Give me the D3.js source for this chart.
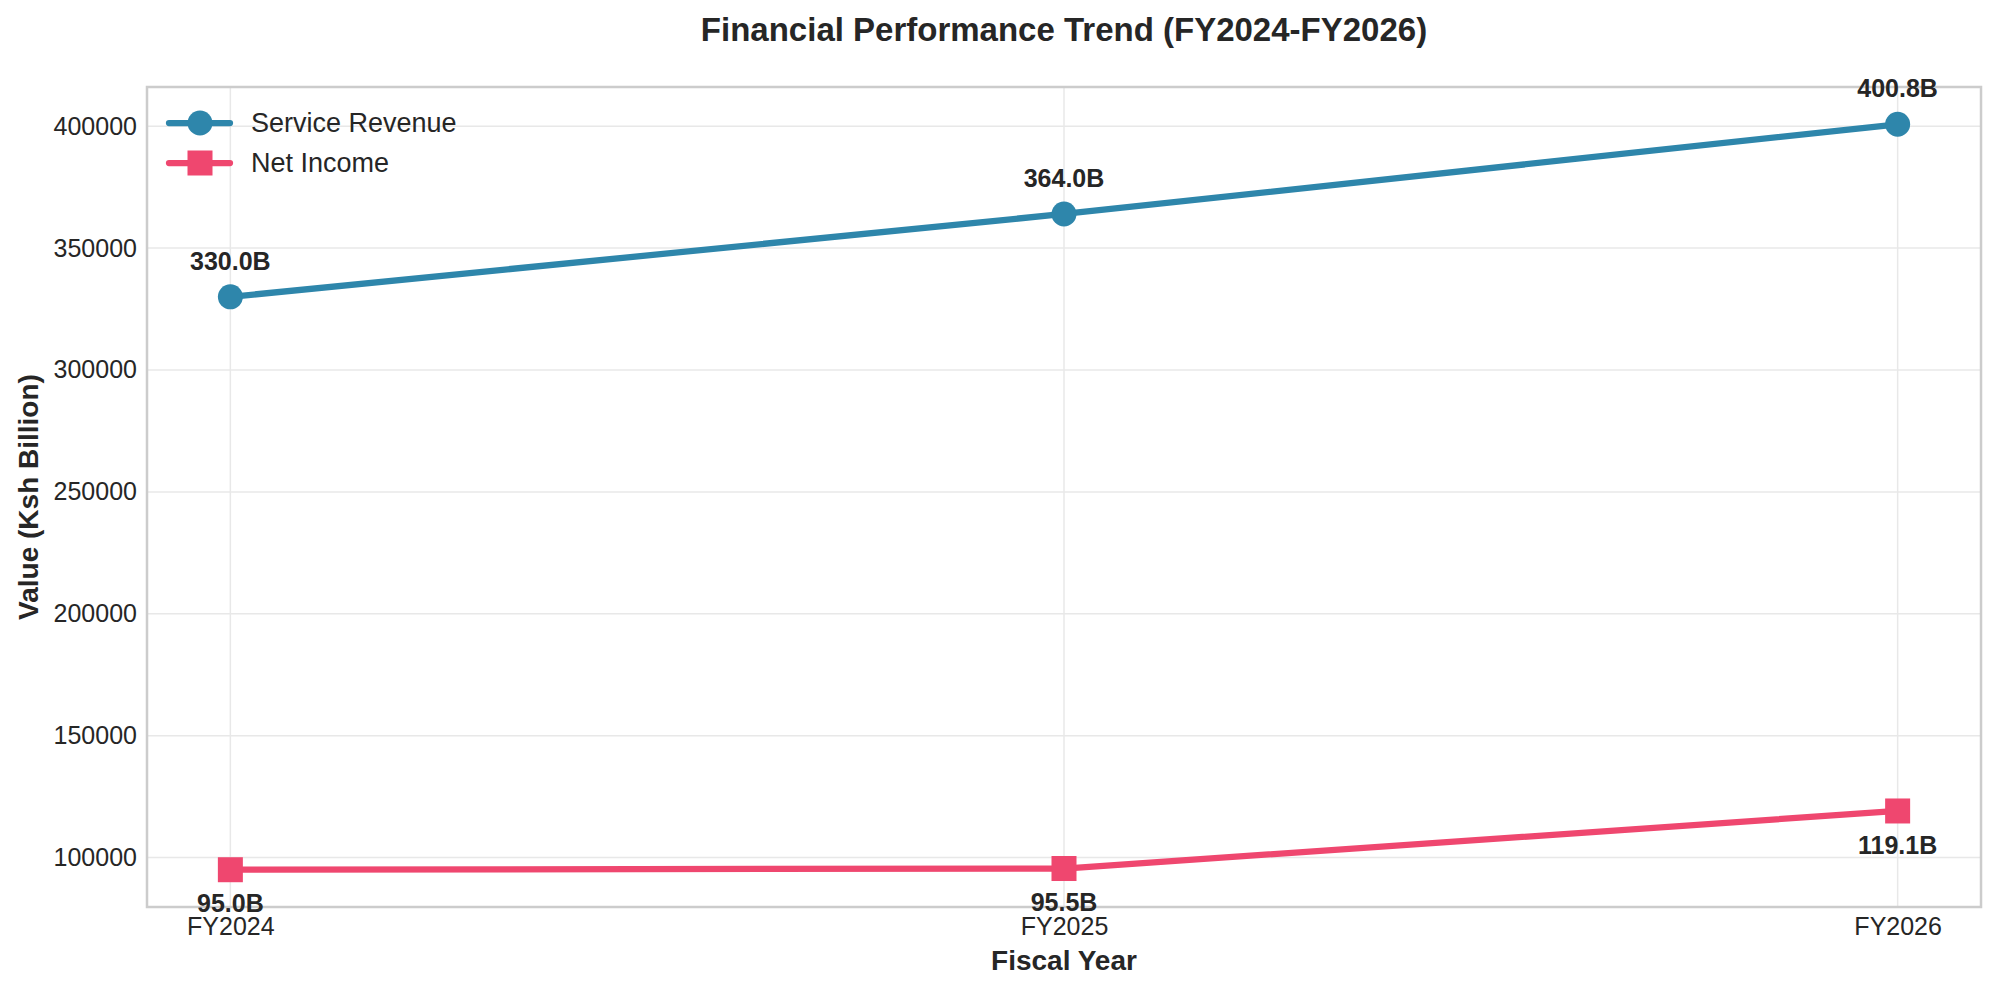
<!DOCTYPE html>
<html>
<head>
<meta charset="utf-8">
<script src="https://cdn.jsdelivr.net/npm/d3@7"></script>
<style>
  body { margin: 0; background: #fff; }
  svg { display: block; font-family: "Liberation Sans", Arial, sans-serif; }
</style>
</head>
<body>
<svg width="2000" height="992"></svg>
<script>
var years = ["FY2024", "FY2025", "FY2026"];
var serviceRevenue = [330000, 364000, 400800];
var netIncome = [95000, 95500, 119100];
var yTicks = [100000, 150000, 200000, 250000, 300000, 350000, 400000];

var margin = { top: 87, right: 19, bottom: 85, left: 147 };
var width = 2000 - margin.left - margin.right;
var height = 992 - margin.top - margin.bottom;

var svg = d3.select("svg");
var g = svg.append("g")
  .attr("transform", "translate(" + margin.left + "," + margin.top + ")");

var x = d3.scaleLinear().domain([-0.1, years.length - 0.9]).range([0, width]);
var y = d3.scaleLinear().domain([79710, 416090]).range([height, 0]);

var textColor = "#262626";
var gridColor = "#e8e8e8";

// grid
g.selectAll(".ygrid")
  .data(yTicks)
  .enter()
  .append("line")
  .attr("x1", 0)
  .attr("x2", width)
  .attr("y1", function (d) { return y(d); })
  .attr("y2", function (d) { return y(d); })
  .attr("stroke", gridColor)
  .attr("stroke-width", 1.5);

g.selectAll(".xgrid")
  .data(years)
  .enter()
  .append("line")
  .attr("x1", function (d, i) { return x(i); })
  .attr("x2", function (d, i) { return x(i); })
  .attr("y1", 0)
  .attr("y2", height)
  .attr("stroke", gridColor)
  .attr("stroke-width", 1.5);

// axes (labels only, no tick marks)
var yAxis = g.append("g")
  .call(d3.axisLeft(y).tickValues(yTicks).tickSize(0).tickPadding(10).tickFormat(d3.format("d")));
yAxis.select(".domain").remove();
yAxis.selectAll("text")
  .attr("fill", textColor)
  .style("font-size", "25px")
  .style("font-family", "Liberation Sans, Arial, sans-serif");

var xAxis = g.append("g")
  .attr("transform", "translate(0," + height + ")")
  .call(d3.axisBottom(x).tickValues(d3.range(years.length)).tickSize(0).tickPadding(10)
    .tickFormat(function (d) { return years[d]; }));
xAxis.select(".domain").remove();
xAxis.selectAll("text")
  .attr("fill", textColor)
  .style("font-size", "25px")
  .style("font-family", "Liberation Sans, Arial, sans-serif");

// frame
g.append("rect")
  .attr("width", width)
  .attr("height", height)
  .attr("fill", "none")
  .attr("stroke", "#cccccc")
  .attr("stroke-width", 2.5);

var series = [
  { name: "Service Revenue", values: serviceRevenue, color: "#2E86AB", marker: "circle", labelDy: -36 },
  { name: "Net Income", values: netIncome, color: "#EF476F", marker: "square", labelDy: 34 }
];

var line = d3.line()
  .x(function (d, i) { return x(i); })
  .y(function (d) { return y(d); });

series.forEach(function (s) {
  g.append("path")
    .datum(s.values)
    .attr("d", line)
    .attr("fill", "none")
    .attr("stroke", s.color)
    .attr("stroke-width", 6.25)
    .attr("stroke-linecap", "round")
    .attr("stroke-linejoin", "round");

  var pts = g.selectAll(null)
    .data(s.values)
    .enter();

  if (s.marker === "circle") {
    pts.append("circle")
      .attr("cx", function (d, i) { return x(i); })
      .attr("cy", function (d) { return y(d); })
      .attr("r", 12.5)
      .attr("fill", s.color);
  } else {
    pts.append("rect")
      .attr("x", function (d, i) { return x(i) - 12.5; })
      .attr("y", function (d) { return y(d) - 12.5; })
      .attr("width", 25)
      .attr("height", 25)
      .attr("fill", s.color);
  }

  g.selectAll(null)
    .data(s.values)
    .enter()
    .append("text")
    .attr("x", function (d, i) { return x(i); })
    .attr("y", function (d) { return y(d) + s.labelDy; })
    .attr("dy", "0.35em")
    .attr("text-anchor", "middle")
    .attr("fill", textColor)
    .style("font-size", "25px")
    .style("font-weight", "bold")
    .text(function (d) { return (d / 1000).toFixed(1) + "B"; });
});

// legend
var legend = g.append("g").attr("transform", "translate(22,36)");
series.forEach(function (s, i) {
  var row = legend.append("g").attr("transform", "translate(0," + i * 40 + ")");
  row.append("line")
    .attr("x1", 0).attr("x2", 61)
    .attr("stroke", s.color)
    .attr("stroke-width", 6.25)
    .attr("stroke-linecap", "round");
  if (s.marker === "circle") {
    row.append("circle").attr("cx", 31).attr("r", 12.5).attr("fill", s.color);
  } else {
    row.append("rect").attr("x", 18.5).attr("y", -12.5).attr("width", 25).attr("height", 25).attr("fill", s.color);
  }
  row.append("text")
    .attr("x", 82)
    .attr("dy", "0.35em")
    .attr("fill", textColor)
    .style("font-size", "27px")
    .text(s.name);
});

// titles
svg.append("text")
  .attr("x", margin.left + width / 2)
  .attr("y", 29)
  .attr("dy", "0.35em")
  .attr("text-anchor", "middle")
  .attr("fill", textColor)
  .style("font-size", "33px")
  .style("font-weight", "bold")
  .text("Financial Performance Trend (FY2024-FY2026)");

svg.append("text")
  .attr("x", margin.left + width / 2)
  .attr("y", 960)
  .attr("dy", "0.35em")
  .attr("text-anchor", "middle")
  .attr("fill", textColor)
  .style("font-size", "28px")
  .style("font-weight", "bold")
  .text("Fiscal Year");

svg.append("text")
  .attr("transform", "translate(28," + (margin.top + height / 2) + ") rotate(-90)")
  .attr("dy", "0.35em")
  .attr("text-anchor", "middle")
  .attr("fill", textColor)
  .style("font-size", "28px")
  .style("font-weight", "bold")
  .text("Value (Ksh Billion)");
</script>
</body>
</html>
